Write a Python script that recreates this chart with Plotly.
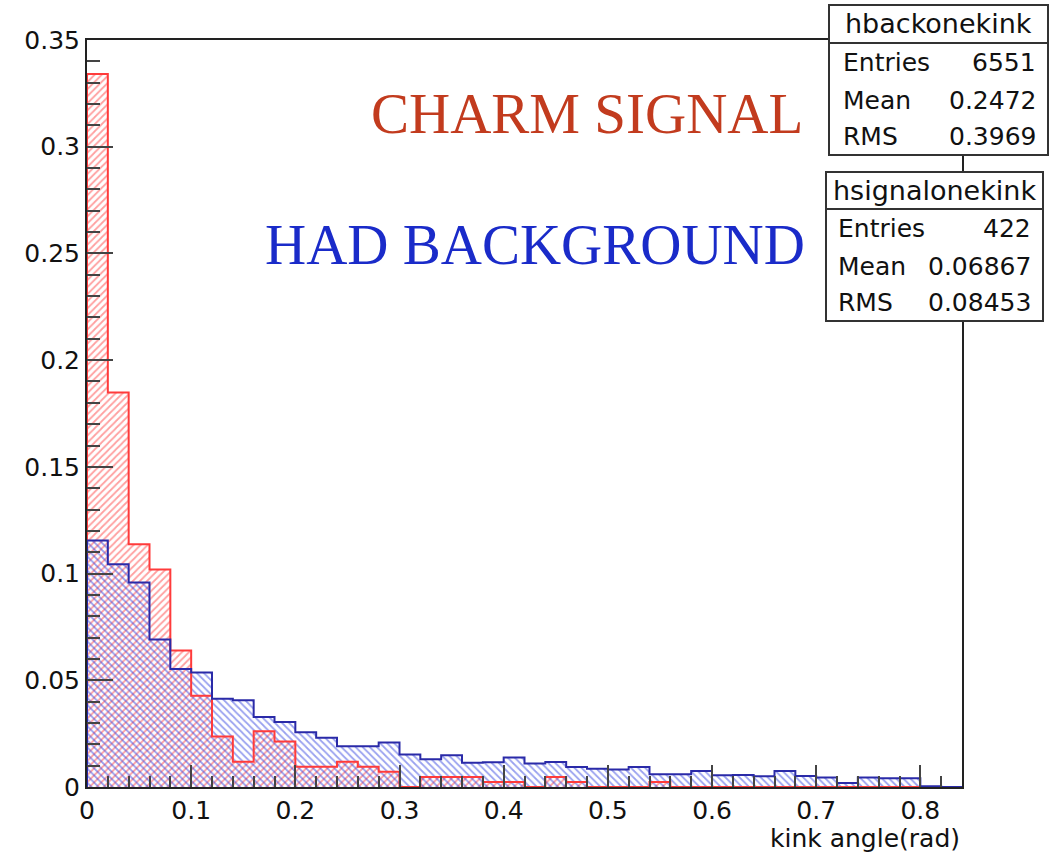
import numpy as np
import plotly.graph_objects as go

# Histogram binning: 42 bins of width 0.02 rad
bin_lo, bin_hi, n_bins = 0.0, 0.84, 42
edges = np.linspace(bin_lo, bin_hi, n_bins + 1)
centers = 0.5 * (edges[:-1] + edges[1:])
bin_width = edges[1] - edges[0]

# hsignalonekink: charm signal, normalised to unit area
charm_signal = [
    0.3341, 0.1848, 0.1137, 0.1019, 0.0640, 0.0427, 0.0237, 0.0118, 0.0261, 0.0213,
    0.0095, 0.0095, 0.0118, 0.0095, 0.0071, 0.0000, 0.0047, 0.0047, 0.0047, 0.0024,
    0.0024, 0.0000, 0.0047, 0.0024, 0.0000, 0.0000, 0.0000, 0.0024, 0.0000, 0.0000,
    0.0000, 0.0000, 0.0000, 0.0000, 0.0000, 0.0000, 0.0000, 0.0000, 0.0000, 0.0000,
    0.0000, 0.0000,
]

# hbackonekink: hadronic background, normalised to unit area
had_background = [
    0.1155, 0.1044, 0.0958, 0.0691, 0.0553, 0.0537, 0.0414, 0.0406, 0.0328, 0.0305,
    0.0256, 0.0231, 0.0191, 0.0191, 0.0208, 0.0152, 0.0130, 0.0149, 0.0114, 0.0116,
    0.0138, 0.0110, 0.0117, 0.0094, 0.0086, 0.0082, 0.0094, 0.0060, 0.0060, 0.0075,
    0.0055, 0.0056, 0.0050, 0.0075, 0.0052, 0.0044, 0.0019, 0.0045, 0.0041, 0.0041,
    0.0004, 0.0000,
]

# Statistics boxes
stats_back = {"name": "hbackonekink", "Entries": "6551", "Mean": "0.2472", "RMS": "0.3969"}
stats_signal = {"name": "hsignalonekink", "Entries": "422", "Mean": "0.06867", "RMS": "0.08453"}

W, H = 1063, 854
L, R, T, B = 87, 962, 40, 787  # frame in pixels


def xp(px):
    return (px - L) / (R - L)


def yp(py):
    return (B - py) / (B - T)


def step_xy(vals):
    xs = [edges[0]] + list(edges)
    ys = [0.0] + list(vals) + [vals[-1]]
    return xs, ys


RED_LINE = "#ff3b3b"
BLUE_LINE = "#2a2aa8"

fig = go.Figure()

fig.add_trace(go.Bar(
    x=centers, y=charm_signal, width=bin_width,
    marker=dict(color="rgba(0,0,0,0)", line=dict(width=0),
                pattern=dict(shape="/", fgcolor="#ff4040", bgcolor="rgba(0,0,0,0)",
                             fillmode="overlay", size=5, solidity=0.35)),
    showlegend=False, hoverinfo="skip",
))
fig.add_trace(go.Bar(
    x=centers, y=had_background, width=bin_width,
    marker=dict(color="rgba(0,0,0,0)", line=dict(width=0),
                pattern=dict(shape="\\", fgcolor="#3444e0", bgcolor="rgba(0,0,0,0)",
                             fillmode="overlay", size=5, solidity=0.35)),
    showlegend=False, hoverinfo="skip",
))

sx, sy = step_xy(charm_signal)
fig.add_trace(go.Scatter(x=sx, y=sy, mode="lines", line=dict(color=RED_LINE, width=2, shape="hv"),
                         showlegend=False, hoverinfo="skip"))
bx, by = step_xy(had_background)
fig.add_trace(go.Scatter(x=bx, y=by, mode="lines", line=dict(color=BLUE_LINE, width=2, shape="hv"),
                         showlegend=False, hoverinfo="skip"))

tick_font = dict(family="DejaVu Sans", size=25, color="#111")

fig.update_layout(
    width=W, height=H,
    margin=dict(l=L, r=W - R, t=T, b=H - B, pad=0),
    paper_bgcolor="white", plot_bgcolor="white",
    barmode="overlay", bargap=0,
    xaxis=dict(range=[bin_lo, bin_hi], showgrid=False, zeroline=False,
               showline=True, linecolor="#222", linewidth=2, mirror=True,
               ticks="inside", ticklen=22, tickwidth=2, tickcolor="#444",
               dtick=0.1, tick0=0, tickfont=tick_font,
               minor=dict(ticks="inside", ticklen=11, tickwidth=2, tickcolor="#444", dtick=0.02)),
    yaxis=dict(range=[0, 0.35], showgrid=False, zeroline=False,
               showline=True, linecolor="#222", linewidth=2, mirror=True,
               ticks="inside", ticklen=26, tickwidth=2, tickcolor="#444",
               dtick=0.05, tick0=0, tickfont=tick_font,
               minor=dict(ticks="inside", ticklen=13, tickwidth=2, tickcolor="#444", dtick=0.01)),
)

annotations = []
shapes = []

# Axis title, right-aligned under the frame
annotations.append(dict(x=xp(962), y=yp(838), xref="paper", yref="paper", text="kink angle(rad)",
                        showarrow=False, xanchor="right", yanchor="middle",
                        font=dict(family="DejaVu Sans", size=25, color="#111")))

# Labels inside the plot
serif = "Liberation Serif"
annotations.append(dict(x=xp(805), y=yp(113), xref="paper", yref="paper", text="CHARM SIGNAL",
                        showarrow=False, xanchor="right", yanchor="middle",
                        font=dict(family=serif, size=57, color="#c23b1e")))
annotations.append(dict(x=xp(807), y=yp(245), xref="paper", yref="paper", text="HAD BACKGROUND",
                        showarrow=False, xanchor="right", yanchor="middle",
                        font=dict(family=serif, size=57, color="#1a2bc9")))


def stats_box(st, x0, x1, y0, y1, ysep, ytitle, yrows, xl, xr):
    shapes.append(dict(type="rect", xref="paper", yref="paper", x0=xp(x0), x1=xp(x1),
                       y0=yp(y1), y1=yp(y0), fillcolor="white",
                       line=dict(color="#333", width=2), layer="above"))
    shapes.append(dict(type="line", xref="paper", yref="paper", x0=xp(x0), x1=xp(x1),
                       y0=yp(ysep), y1=yp(ysep), line=dict(color="#333", width=2), layer="above"))
    f = dict(family="DejaVu Sans", size=25, color="#111")
    annotations.append(dict(x=xp(0.5 * (x0 + x1)), y=yp(ytitle), xref="paper", yref="paper",
                            text=st["name"], showarrow=False, xanchor="center", yanchor="middle",
                            font=dict(family="DejaVu Sans", size=27, color="#111")))
    for key, yy in zip(["Entries", "Mean", "RMS"], yrows):
        annotations.append(dict(x=xp(xl), y=yp(yy), xref="paper", yref="paper", text=key,
                                showarrow=False, xanchor="left", yanchor="middle", font=f))
        annotations.append(dict(x=xp(xr), y=yp(yy), xref="paper", yref="paper", text=st[key],
                                showarrow=False, xanchor="right", yanchor="middle", font=f))


stats_box(stats_back, 829, 1048, 5, 155, 43, 24, [62, 100, 137], 841, 1038)
stats_box(stats_signal, 826, 1043, 172, 321, 209, 190, [228, 266, 302], 836, 1033)

fig.update_layout(annotations=annotations, shapes=shapes)

fig.write_html("out.html")
